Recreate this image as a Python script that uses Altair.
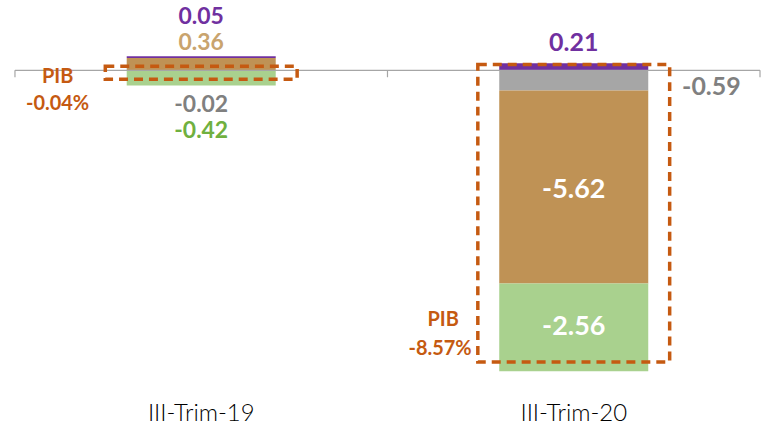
import altair as alt
import pandas as pd

categories = ["III-Trim-19", "III-Trim-20"]
components = ["gris", "café", "verde", "morado"]
values_19 = [-0.02, 0.36, -0.42, 0.05]
values_20 = [-0.59, -5.62, -2.56, 0.21]
pib = [-0.04, -8.57]
pib_box_top = [0.12, 0.17]
pib_box_bottom = [-0.26, -8.5]

colors = {"gris": "#A6A6A6", "café": "#BF9255", "verde": "#A9D18E", "morado": "#7030A0"}
order = {c: i for i, c in enumerate(components)}

rows = []
for cat, vals in zip(categories, [values_19, values_20]):
    for comp, v in zip(components, vals):
        rows.append({"cat": cat, "comp": comp, "value": v, "ord": order[comp]})
bars_df = pd.DataFrame(rows)

box_df = pd.DataFrame({"cat": categories, "top": pib_box_top, "bottom": pib_box_bottom})

W, H = 747, 390
pxu = 34.4
ymax = 70 / pxu
ymin = -(H - 70) / pxu

xenc = alt.X("cat:N", sort=categories,
             scale=alt.Scale(paddingInner=0, paddingOuter=0),
             axis=alt.Axis(title=None, domain=False, ticks=False, labelAngle=0,
                           labelFont="Lato", labelFontSize=24, labelFontWeight=300,
                           labelColor="#000000", labelPadding=12))
yscale = alt.Scale(domain=[ymin, ymax], nice=False, zero=False)

base = alt.Chart(bars_df)

bars = base.mark_bar(width=alt.RelativeBandSize(0.40)).encode(
    x=xenc,
    y=alt.Y("value:Q", stack="zero", scale=yscale, axis=None),
    color=alt.Color("comp:N", scale=alt.Scale(domain=list(colors.keys()), range=list(colors.values())), legend=None),
    order=alt.Order("ord:Q"),
)

zero_line = alt.Chart(pd.DataFrame({"z": [0]})).mark_rule(color="#A6A6A6", strokeWidth=1.2).encode(
    y=alt.Y("z:Q", scale=yscale), x=alt.value(0), x2=alt.value(W))

tick_df = pd.DataFrame({"cat": categories + [categories[-1]], "pos": [0, 0, 1]})
ticks_left = alt.Chart(tick_df[tick_df.pos == 0]).mark_rule(color="#A6A6A6", strokeWidth=1.2).encode(
    x=alt.X("cat:N", sort=categories, bandPosition=0),
    y=alt.datum(0), y2=alt.datum(-0.2))
ticks_right = alt.Chart(tick_df[tick_df.pos == 1]).mark_rule(color="#A6A6A6", strokeWidth=1.2).encode(
    x=alt.X("cat:N", sort=categories, bandPosition=1),
    y=alt.datum(0), y2=alt.datum(-0.2))

box = alt.Chart(box_df).mark_bar(width=alt.RelativeBandSize(0.515), fillOpacity=0, stroke="#C55A11",
                                 strokeWidth=3.5, strokeDash=[9, 6]).encode(
    x=alt.X("cat:N", sort=categories),
    y=alt.Y("top:Q", scale=yscale), y2="bottom:Q")

fmt = lambda v: f"{v:.2f}"
lab_rows = [
    (categories[0], fmt(values_19[3]), 0, 0, -53, "#7030A0", 23),
    (categories[0], fmt(values_19[1]), 0, 0, -27, "#C9A46E", 23),
    (categories[0], fmt(values_19[0]), 0, 0, 35, "#808080", 23),
    (categories[0], fmt(values_19[2]), 0, 0, 61, "#70B03F", 23),
    (categories[0], "PIB", 0, -144, 7, "#C55A11", 20),
    (categories[0], f"{pib[0]:.2f}%", 0, -144, 34, "#C55A11", 20),
    (categories[1], fmt(values_20[3]), 0, 0, -27, "#7030A0", 25),
    (categories[1], fmt(values_20[0]), 0, 138, 17, "#808080", 25),
    (categories[1], fmt(values_20[1]), -(0.59 + 5.62 / 2), 0, 3, "#FFFFFF", 27),
    (categories[1], fmt(values_20[2]), -(0.59 + 5.62 + 2.56 / 2), 0, 0, "#FFFFFF", 27),
    (categories[1], "PIB", pib[1], -131, -45, "#C55A11", 20),
    (categories[1], f"{pib[1]:.2f}%", pib[1], -134, -15, "#C55A11", 20),
]
labels = []
for cat, txt, y, dx, dy, col, size in lab_rows:
    labels.append(
        alt.Chart(pd.DataFrame({"cat": [cat], "t": [txt], "y": [y]})).mark_text(
            font="Lato", fontWeight="bold", fontSize=size, color=col, dx=dx, dy=dy, baseline="middle"
        ).encode(x=alt.X("cat:N", sort=categories), y=alt.Y("y:Q", scale=yscale), text="t:N")
    )

chart = alt.layer(bars, zero_line, ticks_left, ticks_right, box, *labels).properties(
    width=W, height=H, background="#FFFFFF",
    padding={"left": 14, "top": 0, "right": 2, "bottom": 0},
).configure_view(strokeWidth=0, stroke="transparent")

chart.save("out.html", embed_options={"renderer": "svg", "actions": False})
